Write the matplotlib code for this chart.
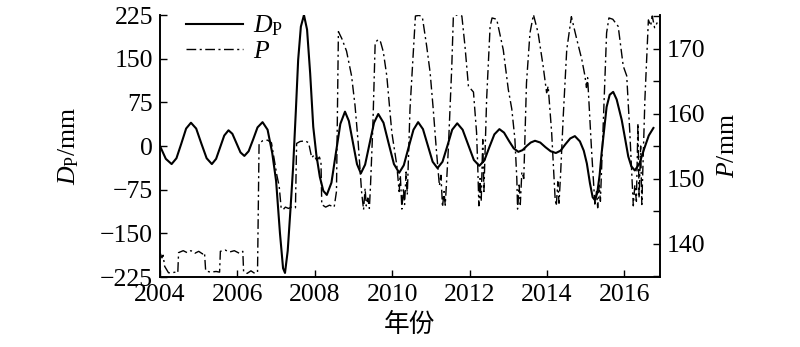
import matplotlib
matplotlib.use("Agg")
import matplotlib.pyplot as plt
from matplotlib.ticker import MultipleLocator

plt.rcParams['font.family'] = ['Liberation Serif', 'Noto Sans CJK SC']
plt.rcParams['mathtext.fontset'] = 'custom'
plt.rcParams['mathtext.rm'] = 'Liberation Serif'
plt.rcParams['mathtext.it'] = 'Liberation Serif:italic'
plt.rcParams['axes.unicode_minus'] = True

# D_P (left axis, mm)
dp_year = [2004.00, 2004.15, 2004.30, 2004.425, 2004.55, 2004.675, 2004.80, 2004.935,
           2005.07, 2005.205, 2005.34, 2005.45, 2005.555, 2005.66, 2005.77, 2005.87,
           2005.975, 2006.08, 2006.18, 2006.29, 2006.405, 2006.52, 2006.65, 2006.78,
           2006.90, 2007.00, 2007.10, 2007.18, 2007.23, 2007.30, 2007.37, 2007.44,
           2007.51, 2007.57, 2007.64, 2007.72, 2007.80, 2007.88, 2007.96, 2008.04,
           2008.13, 2008.22, 2008.31, 2008.43, 2008.545, 2008.66, 2008.78, 2008.88,
           2008.985, 2009.09, 2009.19, 2009.30, 2009.415, 2009.53, 2009.64, 2009.775,
           2009.91, 2010.045, 2010.18, 2010.30, 2010.425, 2010.55, 2010.67, 2010.795,
           2010.92, 2011.045, 2011.17, 2011.30, 2011.425, 2011.55, 2011.68, 2011.82,
           2011.965, 2012.11, 2012.25, 2012.38, 2012.51, 2012.64, 2012.77, 2012.89,
           2013.015, 2013.14, 2013.26, 2013.37, 2013.475, 2013.58, 2013.69, 2013.825,
           2013.96, 2014.095, 2014.23, 2014.35, 2014.475, 2014.60, 2014.72, 2014.85,
           2014.95, 2015.03, 2015.11, 2015.18, 2015.24, 2015.30, 2015.36, 2015.41,
           2015.48, 2015.54, 2015.62, 2015.71, 2015.80, 2015.93, 2016.02, 2016.10,
           2016.18, 2016.27, 2016.39, 2016.51, 2016.63, 2016.75]
dp_val = [0, -22, -31, -21, 4, 30, 40, 30,
          4, -21, -31, -22, -2, 18, 27, 21,
          5, -11, -17, -9, 11, 32, 41, 28,
          -12, -60, -150, -210, -218, -180, -110, -36,
          60, 148, 205, 225, 200, 125, 33, -15,
          -53, -77, -84, -63, -12, 38, 59, 43,
          6, -31, -47, -32, 4, 40, 55, 40,
          4, -31, -46, -33, -2, 28, 41, 29,
          1, -27, -38, -27, 0, 28, 39, 28,
          2, -24, -34, -25, -2, 20, 29, 23,
          9, -4, -10, -7, 0, 6, 9, 6,
          -2, -9, -12, -8, 3, 13, 17, 8,
          -8, -30, -64, -88, -93, -80, -50, -13,
          30, 67, 88, 93, 80, 45, 12, -18,
          -35, -42, -30, -5, 18, 31]

# P (right axis, mm)
p_year = [2004.00, 2004.05, 2004.08, 2004.12, 2004.17, 2004.22, 2004.30, 2004.40,
          2004.46, 2004.48, 2004.60, 2004.70, 2004.80, 2004.90, 2005.00, 2005.10,
          2005.15, 2005.18, 2005.30, 2005.45, 2005.54, 2005.56, 2005.68, 2005.80,
          2005.92, 2006.05, 2006.14, 2006.16, 2006.25, 2006.35, 2006.45, 2006.52,
          2006.56, 2006.65, 2006.78, 2006.88, 2006.95, 2007.02, 2007.08, 2007.13,
          2007.18, 2007.24, 2007.32, 2007.40, 2007.50, 2007.53, 2007.62, 2007.75,
          2007.84, 2007.92, 2007.98, 2008.05, 2008.12, 2008.16, 2008.18, 2008.28,
          2008.38, 2008.50, 2008.56, 2008.61, 2008.70, 2008.82, 2008.95, 2009.04,
          2009.12, 2009.21, 2009.26, 2009.30, 2009.33, 2009.37, 2009.41, 2009.44,
          2009.50, 2009.56, 2009.64, 2009.70, 2009.77, 2009.86, 2009.99, 2010.12,
          2010.18, 2010.21, 2010.25, 2010.29, 2010.32, 2010.36, 2010.39, 2010.46,
          2010.55, 2010.60, 2010.70, 2010.78, 2010.89, 2010.98, 2011.06, 2011.14,
          2011.22, 2011.26, 2011.30, 2011.34, 2011.37, 2011.41, 2011.45, 2011.54,
          2011.58, 2011.68, 2011.80, 2011.88, 2011.97, 2012.10, 2012.18, 2012.21,
          2012.24, 2012.27, 2012.30, 2012.34, 2012.37, 2012.44, 2012.53, 2012.58,
          2012.70, 2012.87, 2013.00, 2013.09, 2013.17, 2013.22, 2013.24, 2013.28,
          2013.31, 2013.35, 2013.40, 2013.47, 2013.56, 2013.65, 2013.77, 2013.90,
          2013.99, 2014.03, 2014.12, 2014.21, 2014.24, 2014.28, 2014.31, 2014.35,
          2014.42, 2014.51, 2014.63, 2014.77, 2014.90, 2014.98, 2015.02, 2015.05,
          2015.15, 2015.24, 2015.28, 2015.31, 2015.35, 2015.38, 2015.46, 2015.54,
          2015.60, 2015.70, 2015.84, 2015.97, 2016.06, 2016.14, 2016.23, 2016.27,
          2016.31, 2016.35, 2016.38, 2016.42, 2016.45, 2016.53, 2016.62, 2016.68,
          2016.72, 2016.78, 2016.85]
p_val = [138.6, 137.8, 138.2, 136.5, 136.0, 135.5, 135.5, 135.6,
         135.5, 138.6, 138.9, 138.6, 138.9, 138.5, 138.8, 138.4,
         138.6, 135.8, 135.6, 135.7, 135.6, 138.8, 139.0, 138.7,
         138.9, 138.5, 138.8, 135.7, 135.4, 135.8, 135.4, 135.6,
         155.4, 155.8, 155.9, 155.5, 153.0, 150.5, 148.8, 145.5,
         145.2, 145.6, 145.4, 145.6, 145.5, 155.4, 155.7, 155.8,
         155.5, 153.2, 153.6, 152.8, 153.3, 152.5, 146.0, 145.6,
         145.9, 145.6, 148.0, 172.6, 171.5, 169.6, 165.8, 161.2,
         155.6, 147.9, 145.2, 148.5, 145.8, 147.0, 145.4, 149.0,
         158.0, 170.9, 171.4, 171.0, 169.5, 165.8, 157.1, 152.0,
         148.0, 150.5, 145.3, 148.5, 146.0, 151.0, 147.5, 160.7,
         169.8, 175.0, 175.1, 174.8, 170.4, 166.3, 160.7, 154.5,
         148.9, 150.5, 145.6, 148.0, 145.9, 150.0, 154.5, 167.3,
         174.9, 175.2, 175.0, 170.4, 164.2, 163.3, 157.1, 152.0,
         145.8, 150.0, 146.5, 156.0, 148.0, 162.2, 173.4, 174.7,
         174.5, 169.8, 163.7, 160.7, 156.1, 150.0, 145.3, 149.0,
         146.0, 151.0, 150.0, 164.7, 172.4, 175.2, 172.4, 167.3,
         163.2, 164.2, 157.1, 146.9, 145.8, 149.5, 146.2, 150.5,
         159.6, 169.8, 174.9, 171.4, 168.3, 165.8, 164.0, 165.5,
         154.5, 145.8, 148.0, 145.5, 149.0, 146.5, 159.6, 172.4,
         174.7, 174.5, 173.4, 167.3, 165.8, 157.1, 145.8, 149.0,
         146.5, 158.5, 147.0, 155.0, 146.0, 162.2, 174.4, 173.5,
         175.0, 173.2, 174.0]

x_ticks = [2004, 2006, 2008, 2010, 2012, 2014, 2016]
dp_ticks = [-225, -150, -75, 0, 75, 150, 225]
p_ticks = [140, 150, 160, 170]

FS = 18.5

fig = plt.figure(figsize=(8, 3.47), dpi=100)
ax = fig.add_axes([0.2, 0.2017, 0.625, 0.755])
ax2 = ax.twinx()

l1, = ax.plot(dp_year, dp_val, color='black', lw=1.5, label=r'$D_\mathrm{P}$')
l2, = ax2.plot(p_year, p_val, color='black', lw=1.0, dashes=(7, 2.5, 1.5, 2.5),
               label=r'$P$')

ax.set_xlim(2004, 2016.92)
ax.set_ylim(-225, 225)
ax2.set_ylim(134.85, 175.15)

ax.set_xticks(x_ticks)
ax.set_yticks(dp_ticks)
ax2.set_yticks(p_ticks)
ax2.yaxis.set_minor_locator(MultipleLocator(5))

for a in (ax, ax2):
    a.spines['top'].set_visible(False)
    a.tick_params(direction='in', length=5, width=1, labelsize=FS, pad=5)
    a.tick_params(which='minor', direction='in', length=5, width=1)
    for s in a.spines.values():
        s.set_linewidth(1.2)

ax.set_ylabel(r'$D_\mathrm{P}$/mm', fontsize=FS, labelpad=14)
ax2.set_ylabel(r'$P$/mm', fontsize=FS, labelpad=8)
ax.set_xlabel('年份', fontsize=FS, family=['Noto Sans CJK SC'], labelpad=4)

ax.legend(handles=[l1, l2], loc='upper left', bbox_to_anchor=(0.052, 1.005),
          frameon=False, fontsize=FS, handlelength=2.2, handletextpad=0.4,
          labelspacing=0.08, borderpad=0, borderaxespad=0)

fig.savefig('out.png', dpi=100)
